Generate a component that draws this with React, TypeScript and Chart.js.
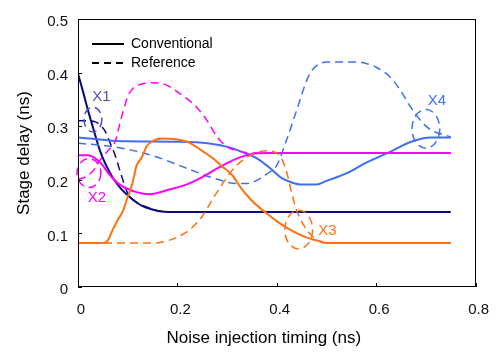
import React, { useEffect, useRef } from "react";
import { Chart, registerables } from "chart.js";

Chart.register(...registerables);

// ---------- tick values ----------
const xTicks = [0, 0.2, 0.4, 0.6, 0.8];
const yTicks = [0, 0.1, 0.2, 0.3, 0.4, 0.5];

// ---------- series (x in ns, y in ns) ----------
// Navy – conventional
const navyConvX = [0, 0.01, 0.02, 0.03, 0.044, 0.056, 0.07, 0.085, 0.098, 0.113, 0.128, 0.148, 0.168, 0.2, 0.75];
const navyConvY = [0.398, 0.365, 0.33, 0.298, 0.255, 0.228, 0.204, 0.185, 0.173, 0.161, 0.152, 0.145, 0.141, 0.14, 0.14];
// Navy – reference
const navyRefX = [0, 0.02, 0.035, 0.045, 0.055, 0.065, 0.075, 0.085, 0.1, 0.115, 0.13, 0.15, 0.17, 0.2, 0.75];
const navyRefY = [0.31, 0.31, 0.308, 0.302, 0.29, 0.268, 0.245, 0.215, 0.175, 0.16, 0.152, 0.145, 0.141, 0.14, 0.14];

// Blue – conventional
const blueConvX = [0, 0.07, 0.1, 0.2, 0.26, 0.31, 0.33, 0.36, 0.39, 0.41, 0.43, 0.45, 0.48, 0.5, 0.54, 0.58, 0.63, 0.67, 0.71, 0.75];
const blueConvY = [0.279, 0.273, 0.272, 0.271, 0.268, 0.259, 0.252, 0.24, 0.219, 0.203, 0.195, 0.191, 0.191, 0.198, 0.212, 0.232, 0.253, 0.271, 0.279, 0.279];
// Blue – reference
const blueRefX = [0, 0.07, 0.15, 0.22, 0.27, 0.32, 0.34, 0.37, 0.38, 0.4, 0.42, 0.44, 0.46, 0.47, 0.48, 0.49, 0.5, 0.56, 0.58, 0.6, 0.63, 0.65, 0.67, 0.69, 0.71, 0.74, 0.75];
const blueRefY = [0.268, 0.262, 0.245, 0.221, 0.204, 0.193, 0.193, 0.204, 0.211, 0.227, 0.275, 0.33, 0.385, 0.403, 0.413, 0.418, 0.42, 0.42, 0.417, 0.41, 0.39, 0.365, 0.335, 0.31, 0.293, 0.283, 0.28];

// Magenta – conventional
const magConvX = [0, 0.02, 0.045, 0.064, 0.084, 0.118, 0.144, 0.184, 0.218, 0.25, 0.284, 0.318, 0.35, 0.384, 0.75];
const magConvY = [0.246, 0.246, 0.232, 0.209, 0.191, 0.177, 0.173, 0.182, 0.191, 0.205, 0.223, 0.239, 0.248, 0.25, 0.25];
// Magenta – reference
const magRefX = [0, 0.02, 0.035, 0.044, 0.058, 0.068, 0.075, 0.083, 0.09, 0.1, 0.11, 0.12, 0.15, 0.175, 0.2, 0.24, 0.26, 0.28, 0.3, 0.325, 0.35, 0.75];
const magRefY = [0.2, 0.208, 0.222, 0.236, 0.252, 0.262, 0.272, 0.3, 0.325, 0.355, 0.37, 0.376, 0.381, 0.378, 0.364, 0.334, 0.31, 0.28, 0.262, 0.253, 0.25, 0.25];

// Orange – conventional
const orgConvX = [0, 0.05, 0.06, 0.07, 0.08, 0.09, 0.1, 0.11, 0.118, 0.128, 0.138, 0.148, 0.17, 0.2, 0.22, 0.23, 0.25, 0.27, 0.29, 0.31, 0.33, 0.35, 0.38, 0.404, 0.43, 0.458, 0.484, 0.5, 0.75];
const orgConvY = [0.082, 0.082, 0.087, 0.107, 0.125, 0.141, 0.168, 0.195, 0.227, 0.241, 0.262, 0.271, 0.277, 0.275, 0.271, 0.266, 0.254, 0.241, 0.225, 0.209, 0.182, 0.161, 0.137, 0.12, 0.105, 0.093, 0.086, 0.082, 0.082];
// Orange – reference
const orgRefX = [0, 0.15, 0.17, 0.2, 0.225, 0.25, 0.275, 0.3, 0.32, 0.35, 0.38, 0.4, 0.41, 0.42, 0.43, 0.44, 0.455, 0.47, 0.484, 0.5, 0.75];
const orgRefY = [0.082, 0.082, 0.084, 0.093, 0.107, 0.132, 0.17, 0.205, 0.228, 0.247, 0.254, 0.25, 0.239, 0.214, 0.175, 0.143, 0.114, 0.096, 0.086, 0.082, 0.082];

// ---------- annotations ----------
const markNames = ["X1", "X2", "X3", "X4"];
const markCx = [0.03, 0.022, 0.444, 0.7];
const markCy = [0.3125, 0.2125, 0.107, 0.295];
const markRx = [0.018, 0.024, 0.028, 0.028];
const markRy = [0.023, 0.027, 0.036, 0.036];
const markLabelX = [0.047, 0.038, 0.502, 0.722];
const markLabelY = [0.354, 0.166, 0.105, 0.348];

const legendNames = ["Conventional", "Reference"];

const NAVY = "#0a0a80";
const BLUE = "#3d6ff0";
const MAG = "#ff00ff";
const ORG = "#ff7010";
const X1COL = "#5252aa";
const markColors = [X1COL, MAG, ORG, BLUE];
const FONT = "'Liberation Sans', Arial, Helvetica, sans-serif";

const pts = (xs: number[], ys: number[]) => xs.map((x, i) => ({ x, y: ys[i] }));

const DASH = [8, 5];

function ds(label: string, xs: number[], ys: number[], color: string, dashed: boolean) {
  return {
    label,
    data: pts(xs, ys),
    borderColor: color,
    backgroundColor: color,
    borderWidth: dashed ? 1.5 : 2,
    borderDash: dashed ? DASH : [],
    pointRadius: 0,
    fill: false,
    cubicInterpolationMode: "monotone" as const,
  };
}

const decorPlugin = {
  id: "decor",
  afterDatasetsDraw(chart: any) {
    const { ctx, chartArea, scales } = chart;
    const xs = scales.x;
    const ys = scales.y;
    const { left, right, top, bottom } = chartArea;
    ctx.save();

    // ellipses
    for (let i = 0; i < markNames.length; i++) {
      const cx = xs.getPixelForValue(markCx[i]);
      const cy = ys.getPixelForValue(markCy[i]);
      const rx = Math.abs(xs.getPixelForValue(markCx[i] + markRx[i]) - cx);
      const ry = Math.abs(ys.getPixelForValue(markCy[i] + markRy[i]) - cy);
      ctx.beginPath();
      ctx.setLineDash(DASH);
      ctx.lineWidth = 1.5;
      ctx.strokeStyle = markColors[i];
      ctx.ellipse(cx, cy, rx, ry, 0, 0, Math.PI * 2);
      ctx.stroke();
      ctx.setLineDash([]);
      ctx.fillStyle = markColors[i];
      ctx.font = `15px ${FONT}`;
      ctx.textAlign = "center";
      ctx.textBaseline = "middle";
      ctx.fillText(markNames[i], xs.getPixelForValue(markLabelX[i]), ys.getPixelForValue(markLabelY[i]));
    }

    // frame
    ctx.setLineDash([]);
    ctx.strokeStyle = "#000";
    ctx.lineWidth = 1;
    ctx.strokeRect(Math.round(left) + 0.5, Math.round(top) + 0.5, Math.round(right - left) - 1, Math.round(bottom - top) - 1);

    // inward ticks
    ctx.beginPath();
    for (const v of xTicks) {
      const px = Math.round(xs.getPixelForValue(v)) + 0.5;
      ctx.moveTo(px, bottom);
      ctx.lineTo(px, bottom - 4);
    }
    for (const v of yTicks) {
      const py = Math.round(ys.getPixelForValue(v)) + 0.5;
      ctx.moveTo(left, py);
      ctx.lineTo(left + 4, py);
    }
    ctx.stroke();

    // legend
    const lx = left + 14;
    const rows = [top + 25, top + 44];
    legendNames.forEach((name, i) => {
      ctx.beginPath();
      ctx.strokeStyle = "#000";
      ctx.lineWidth = 2;
      ctx.setLineDash(i === 0 ? [] : [7, 5]);
      ctx.moveTo(lx, rows[i]);
      ctx.lineTo(lx + 32, rows[i]);
      ctx.stroke();
      ctx.setLineDash([]);
      ctx.fillStyle = "#000";
      ctx.font = `14px ${FONT}`;
      ctx.textAlign = "left";
      ctx.textBaseline = "middle";
      ctx.fillText(name, lx + 39, rows[i]);
    });

    // axis titles
    ctx.fillStyle = "#000";
    ctx.font = `17px ${FONT}`;
    ctx.textAlign = "center";
    ctx.textBaseline = "middle";
    ctx.fillText("Noise injection timing (ns)", (left + right) / 2 - 13, bottom + 51);
    ctx.save();
    ctx.translate(24, (top + bottom) / 2);
    ctx.rotate(-Math.PI / 2);
    ctx.fillText("Stage delay (ns)", 0, 0);
    ctx.restore();

    ctx.restore();
  },
};

const fmt = (v: number) => (Math.abs(v) < 1e-9 ? "0" : (Math.round(v * 10) / 10).toFixed(1));

export default function App() {
  const ref = useRef<HTMLCanvasElement>(null);
  useEffect(() => {
    const canvas = ref.current!;
    const chart = new Chart(canvas, {
      type: "line",
      data: {
        datasets: [
          ds("Orange ref", orgRefX, orgRefY, ORG, true),
          ds("Orange conv", orgConvX, orgConvY, ORG, false),
          ds("Magenta ref", magRefX, magRefY, MAG, true),
          ds("Magenta conv", magConvX, magConvY, MAG, false),
          ds("Blue ref", blueRefX, blueRefY, BLUE, true),
          ds("Blue conv", blueConvX, blueConvY, BLUE, false),
          ds("Navy ref", navyRefX, navyRefY, NAVY, true),
          ds("Navy conv", navyConvX, navyConvY, NAVY, false),
        ] as any,
      },
      options: {
        responsive: false,
        animation: false,
        events: [],
        layout: { padding: { top: 7, right: 22, left: 0, bottom: 0 } },
        plugins: { legend: { display: false }, tooltip: { enabled: false }, title: { display: false } },
        scales: {
          x: {
            type: "linear",
            min: 0,
            max: 0.8,
            grid: { display: false, drawTicks: false, tickLength: 0 },
            border: { display: false },
            afterBuildTicks: (s: any) => {
              s.ticks = xTicks.map((v) => ({ value: v }));
            },
            afterFit: (s: any) => {
              s.height = 65;
            },
            ticks: {
              callback: (v: any) => fmt(Number(v)),
              color: "#111",
              font: { family: FONT, size: 15 },
              padding: 14,
              labelOffset: 3,
              maxRotation: 0,
              autoSkip: false,
            },
          },
          y: {
            type: "linear",
            min: 0,
            max: 0.5,
            grid: { display: false, drawTicks: false, tickLength: 0 },
            border: { display: false },
            afterBuildTicks: (s: any) => {
              s.ticks = yTicks.map((v) => ({ value: v }));
            },
            afterFit: (s: any) => {
              s.width = 78;
            },
            ticks: {
              callback: (v: any) => fmt(Number(v)),
              color: "#111",
              font: { family: FONT, size: 15 },
              padding: 10,
              labelOffset: 3,
              autoSkip: false,
            },
          },
        },
      },
      plugins: [decorPlugin],
    });
    return () => chart.destroy();
  }, []);
  return (
    <div style={{ position: "fixed", left: 0, top: 0, width: 500, height: 352, background: "#fff" }}>
      <canvas ref={ref} width={500} height={352} style={{ width: 500, height: 352, display: "block" }} />
    </div>
  );
}
